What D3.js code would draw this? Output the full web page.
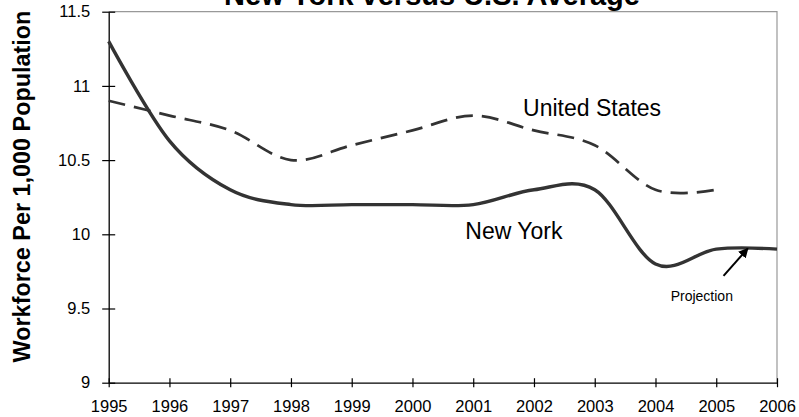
<!DOCTYPE html>
<html>
<head>
<meta charset="utf-8">
<script src="https://cdn.jsdelivr.net/npm/d3@7"></script>
<style>
  html, body { margin: 0; padding: 0; background: #fff; }
  svg { display: block; font-family: "Liberation Sans", Arial, sans-serif; }
</style>
</head>
<body>
<svg id="chart" width="799" height="417"></svg>
<script>
// Workforce per 1,000 population, annual values
const years = [1995, 1996, 1997, 1998, 1999, 2000, 2001, 2002, 2003, 2004, 2005, 2006];
const newYork = [11.3, 10.63, 10.3, 10.2, 10.2, 10.2, 10.2, 10.3, 10.3, 9.8, 9.9, 9.9];
const unitedStates = [10.9, 10.8, 10.7, 10.5, 10.6, 10.7, 10.8, 10.7, 10.6, 10.3, 10.3];
const yTicks = [9, 9.5, 10, 10.5, 11, 11.5];
const yTickLabels = ["9", "9.5", "10", "10.5", "11", "11.5"];

const title = "New York versus U.S. Average";
const yTitle = "Workforce Per 1,000 Population";

const svg = d3.select("#chart");
const plot = { left: 108.7, right: 777, top: 11.7, bottom: 382.7 };

const x = d3.scaleLinear().domain([1995, 2006]).range([plot.left, plot.right]);
const y = d3.scaleLinear().domain([9, 11.5]).range([plot.bottom, plot.top]);

// frame: grey top/right edges
svg.append("path")
  .attr("d", `M${plot.left},${plot.top}H${plot.right}V${plot.bottom}`)
  .attr("fill", "none").attr("stroke", "#999").attr("stroke-width", 1.2);

// y axis with ticks crossing the axis line
const yAxis = svg.append("g")
  .attr("transform", `translate(${plot.left},0)`)
  .call(d3.axisLeft(y).tickValues(yTicks).tickFormat((d, i) => yTickLabels[i])
    .tickSize(6.5).tickPadding(12).tickSizeOuter(0));
yAxis.selectAll(".tick line").attr("x1", 6.5);
yAxis.select(".domain").attr("stroke", "#000").attr("stroke-width", 1.3);
yAxis.selectAll(".tick line").attr("stroke", "#000").attr("stroke-width", 1.2);
yAxis.selectAll("text").attr("font-size", 16.5).attr("fill", "#000")
  .attr("font-family", "'Liberation Sans', Arial, sans-serif");

// x axis
const xAxis = svg.append("g")
  .attr("transform", `translate(0,${plot.bottom})`)
  .call(d3.axisBottom(x).tickValues(years).tickFormat(d3.format("d"))
    .tickSize(4.5).tickPadding(12.8).tickSizeOuter(0));
xAxis.selectAll(".tick line").attr("y1", -4.5);
xAxis.select(".domain").attr("stroke", "#000").attr("stroke-width", 1.3);
xAxis.selectAll(".tick line").attr("stroke", "#000").attr("stroke-width", 1.2);
xAxis.selectAll("text").attr("font-size", 16.5).attr("fill", "#000")
  .attr("font-family", "'Liberation Sans', Arial, sans-serif");

// smoothed series lines
const line = d3.line()
  .x(d => x(d[0]))
  .y(d => y(d[1]))
  .curve(d3.curveCardinal.tension(0));

const usData = unitedStates.map((v, i) => [years[i], v]);
const nyData = newYork.map((v, i) => [years[i], v]);

svg.append("path")
  .datum(usData)
  .attr("d", line)
  .attr("fill", "none")
  .attr("stroke", "#333")
  .attr("stroke-width", 2.7)
  .attr("stroke-dasharray", "17,9");

svg.append("path")
  .datum(nyData)
  .attr("d", line)
  .attr("fill", "none")
  .attr("stroke", "#333")
  .attr("stroke-width", 3.4)
  .attr("stroke-linejoin", "round");

// series labels
svg.append("text")
  .attr("x", x(2001.82)).attr("y", y(10.8))
  .attr("font-size", 23).attr("fill", "#000")
  .text("United States");

svg.append("text")
  .attr("x", x(2000.87)).attr("y", y(9.97))
  .attr("font-size", 23).attr("fill", "#000")
  .text("New York");

// projection note with arrow
const defs = svg.append("defs");
defs.append("marker")
  .attr("id", "arrowhead")
  .attr("viewBox", "0 0 10 10")
  .attr("refX", 9).attr("refY", 5)
  .attr("markerWidth", 5).attr("markerHeight", 5)
  .attr("orient", "auto")
  .append("path")
  .attr("d", "M0,0L10,5L0,10z")
  .attr("fill", "#000");

svg.append("line")
  .attr("x1", x(2005.12)).attr("y1", y(9.72))
  .attr("x2", x(2005.52)).attr("y2", y(9.905))
  .attr("stroke", "#000").attr("stroke-width", 2)
  .attr("marker-end", "url(#arrowhead)");

svg.append("text")
  .attr("x", x(2004.25)).attr("y", y(9.55))
  .attr("font-size", 14).attr("fill", "#000")
  .text("Projection");

// titles
svg.append("text")
  .attr("x", 432).attr("y", 5)
  .attr("text-anchor", "middle")
  .attr("font-size", 29).attr("font-weight", "bold").attr("fill", "#000")
  .text(title);

svg.append("text")
  .attr("transform", "translate(30,186.5) rotate(-90)")
  .attr("text-anchor", "middle")
  .attr("font-size", 23.4).attr("font-weight", "bold").attr("fill", "#000")
  .text(yTitle);
</script>
</body>
</html>
